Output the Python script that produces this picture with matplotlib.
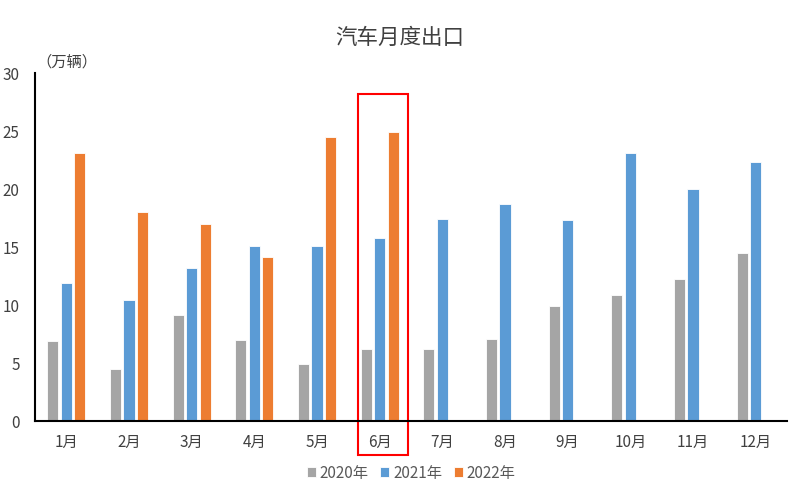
import matplotlib.pyplot as plt
import matplotlib.patches as patches
import numpy as np

plt.rcParams['font.family'] = ['Noto Sans CJK SC', 'DejaVu Sans']

months = ["1月", "2月", "3月", "4月", "5月", "6月", "7月", "8月", "9月", "10月", "11月", "12月"]
y2020 = [6.9, 4.5, 9.1, 7.0, 4.9, 6.2, 6.2, 7.1, 9.9, 10.9, 12.2, 14.5]
y2021 = [11.9, 10.4, 13.2, 15.1, 15.1, 15.8, 17.4, 18.7, 17.3, 23.1, 20.0, 22.3]
y2022 = [23.1, 18.0, 17.0, 14.1, 24.5, 24.9]

c_gray = "#A5A5A5"
c_blue = "#5B9BD5"
c_orange = "#ED7D31"

fig = plt.figure(figsize=(8.01, 4.98), dpi=100)
ax = fig.add_axes([35/801, 1 - 421/498, 752/801, 348/498])

x = np.arange(len(months))
w = 0.176
step = 0.215
ax.bar(x - step, y2020, w, color=c_gray, edgecolor="white", linewidth=0.6, label="2020年")
ax.bar(x, y2021, w, color=c_blue, edgecolor="white", linewidth=0.6, label="2021年")
ax.bar(x[:len(y2022)] + step, y2022, w, color=c_orange, edgecolor="white", linewidth=0.6, label="2022年")

ax.set_xlim(-0.5, len(months) - 0.5)
ax.set_ylim(0, 30)
ax.set_yticks([0, 5, 10, 15, 20, 25, 30])
ax.set_xticks(x)
ax.set_xticklabels(months)
ax.tick_params(axis="both", length=0, labelsize=11, colors="#404040")
ax.tick_params(axis="x", pad=9)
ax.tick_params(axis="y", pad=11)
for s in ["top", "right"]:
    ax.spines[s].set_visible(False)
ax.spines["left"].set_color("black")
ax.spines["bottom"].set_color("black")
ax.spines["left"].set_linewidth(1.5)
ax.spines["bottom"].set_linewidth(1.5)

# highlight box around June
rect = patches.Rectangle((5 - 0.35, -0.098), 0.80, 1.038, transform=ax.get_xaxis_transform(),
                         fill=False, edgecolor="#FF0000", linewidth=1.5, clip_on=False)
ax.add_patch(rect)

fig.text(36/801, 1 - 62/498, "（万辆）", fontsize=11, color="#404040", va="center", ha="left")
fig.text(400/801, 1 - 38/498, "汽车月度出口", fontsize=15.5, color="#404040", va="center", ha="center")

ax.legend(loc="center", bbox_to_anchor=(0.5, -0.15), ncol=3, frameon=False,
          handlelength=0.6, handleheight=0.6, handletextpad=0.25, columnspacing=0.75,
          fontsize=11, labelcolor="#595959")

fig.savefig("out.png", dpi=100)
